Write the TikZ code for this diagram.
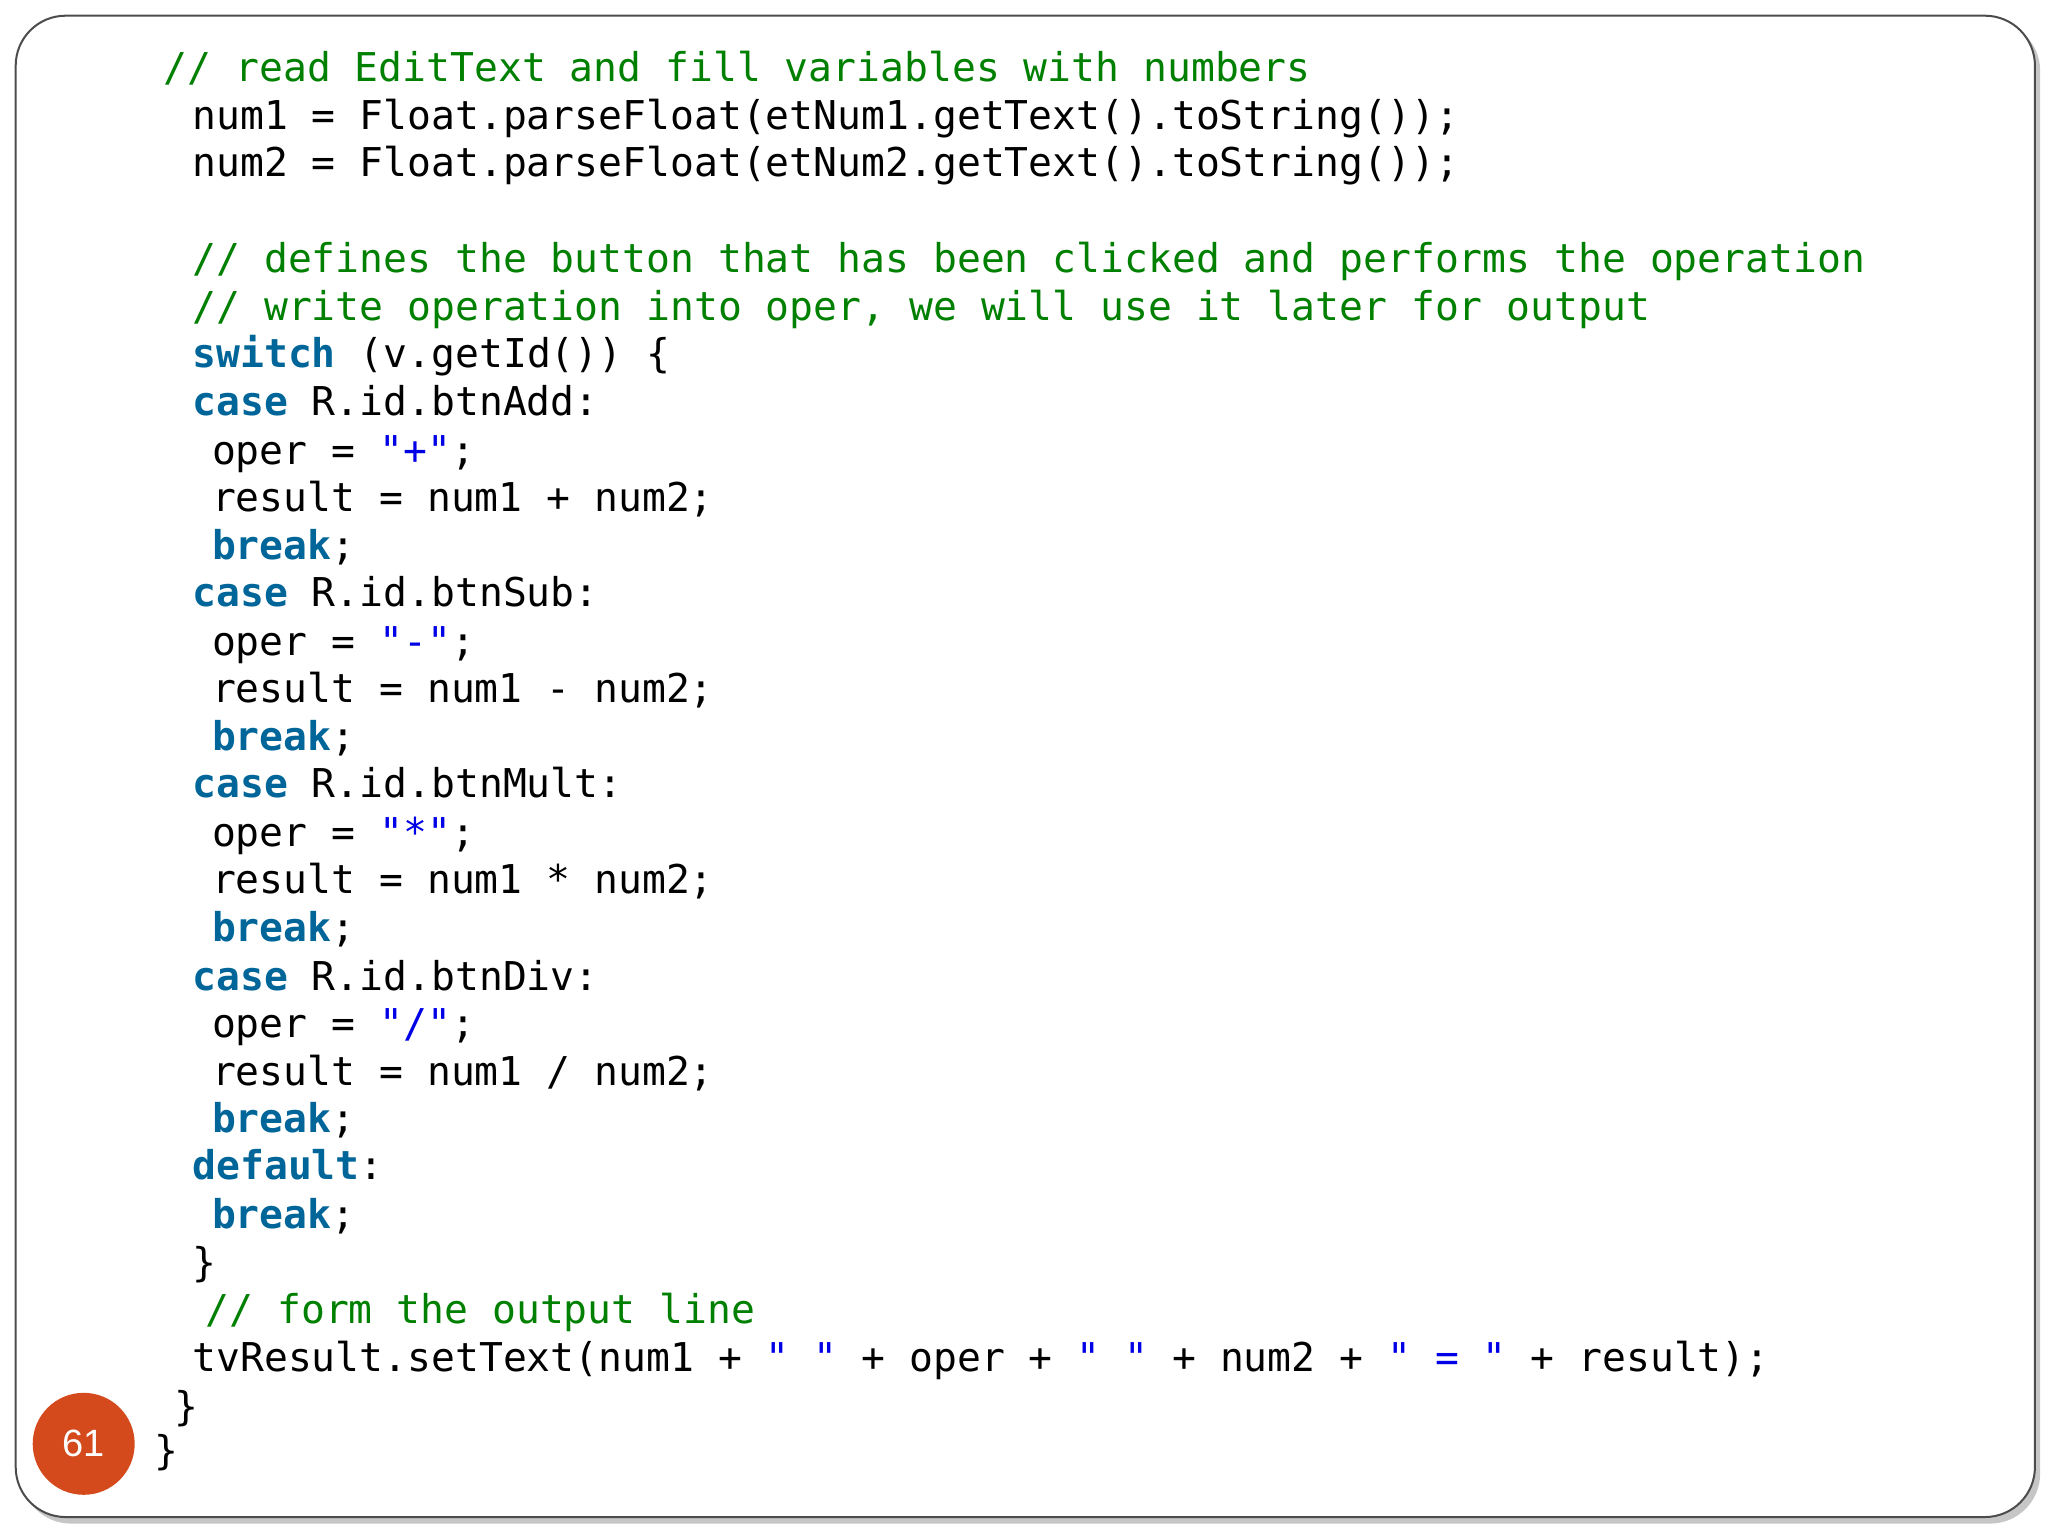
\documentclass[tikz,border=0pt]{standalone}
\usepackage{fontspec}
\setmonofont{DejaVu Sans Mono}
\setsansfont{Liberation Sans}
\definecolor{cmt}{RGB}{0,128,0}
\definecolor{kw}{RGB}{0,102,153}
\definecolor{str}{RGB}{0,0,230}
\definecolor{badge}{RGB}{212,74,28}
\newcommand{\K}[1]{\textcolor{kw}{\textbf{#1}}}
\newcommand{\C}[1]{\textcolor{cmt}{#1}}
\newcommand{\St}[1]{\textcolor{str}{#1}}
\begin{document}
\begin{tikzpicture}[x=1.308pt,y=-1.308pt,
  code/.style={anchor=base west,inner sep=0pt,font=\fontsize{39.7}{44}\ttfamily}]
\useasboundingbox (0,0) rectangle (1566,1174);
\fill[gray!45,rounded corners=50pt] (16,16) rectangle (1560,1165);
\draw[black!70,line width=2pt,fill=white,rounded corners=50pt] (12,12) rectangle (1556,1160);
\def\cl#1#2#3#4{\node[code] (#1) at (#2,#3) {#4};}
\cl{l1}{125}{62}{\C{// read EditText and fill variables with numbers}}
\cl{l2}{147}{99}{num1 = Float.parseFloat(etNum1.getText().toString());}
\cl{l3}{147}{135}{num2 = Float.parseFloat(etNum2.getText().toString());}
\cl{l4}{147}{208}{\C{// defines the button that has been clicked and performs the operation}}
\cl{l5}{147}{245}{\C{// write operation into oper, we will use it later for output}}
\cl{l6}{147}{281}{\K{switch} (v.getId()) \{}
\cl{l7}{147}{318}{\K{case} R.id.btnAdd:}
\cl{l8}{162}{355}{oper = \St{"+"};}
\cl{l9}{162}{391}{result = num1 + num2;}
\cl{l10}{162}{428}{\K{break};}
\cl{l11}{147}{464}{\K{case} R.id.btnSub:}
\cl{l12}{162}{501}{oper = \St{"-"};}
\cl{l13}{162}{537}{result = num1 - num2;}
\cl{l14}{162}{574}{\K{break};}
\cl{l15}{147}{610}{\K{case} R.id.btnMult:}
\cl{l16}{162}{647}{oper = \St{"*"};}
\cl{l17}{162}{683}{result = num1 * num2;}
\cl{l18}{162}{720}{\K{break};}
\cl{l19}{147}{757}{\K{case} R.id.btnDiv:}
\cl{l20}{162}{793}{oper = \St{"/"};}
\cl{l21}{162}{830}{result = num1 / num2;}
\cl{l22}{162}{866}{\K{break};}
\cl{l23}{147}{902}{\K{default}:}
\cl{l24}{162}{939}{\K{break};}
\cl{l25}{147}{976}{\}}
\cl{l26}{157}{1012}{\C{// form the output line}}
\cl{l27}{147}{1049}{tvResult.setText(num1 + \St{" "} + oper + \St{" "} + num2 + \St{" = "} + result);}
\cl{l28}{133}{1086}{\}}
\cl{l29}{118}{1120}{\}}
\node[circle,fill=badge,minimum size=102pt,inner sep=0pt,text=white,font=\sffamily\fontsize{38}{40}\selectfont] (pg) at (64,1104) {61};
\end{tikzpicture}
\end{document}
